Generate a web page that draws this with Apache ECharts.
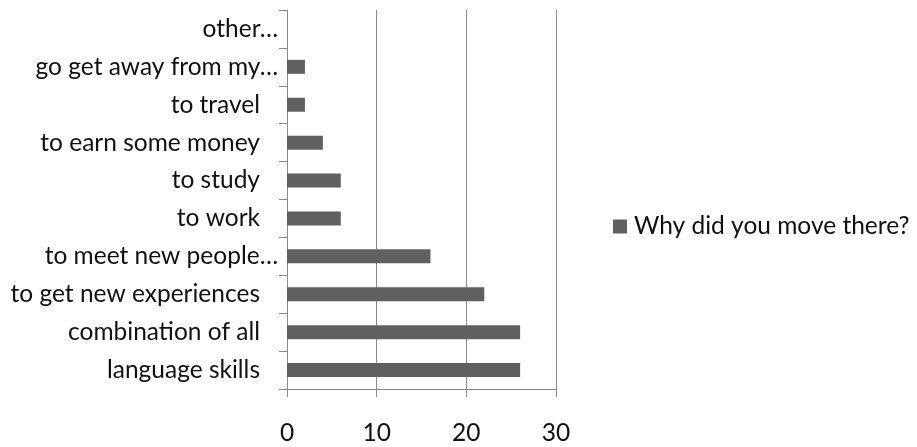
<!DOCTYPE html>
<html><head><meta charset="utf-8">
<script src="https://cdn.jsdelivr.net/npm/echarts@6/dist/echarts.min.js"></script>
<style>html,body{margin:0;padding:0;background:#fff}#c{width:917px;height:447px}</style>
</head><body><div id="c"></div>
<script>
const categories = ["language skills","combination of all","to get new experiences","to meet new people…","to work","to study","to earn some money","to travel","go get away from my…","other…"];
const values = [26,26,22,16,6,6,4,2,2,0];
const seriesName = "Why did you move there?";
const xTicks = [0,10,20,30];

const chart = echarts.init(document.getElementById('c'));
const font = "Lato, 'Open Sans', sans-serif";
const fs = 24.5;
chart.setOption({
  animation:false,
  textStyle:{fontFamily:font},
  grid:{left:287,right:361,top:10,bottom:58,containLabel:false},
  legend:{
    data:[seriesName],left:613,top:214,padding:0,icon:'rect',itemWidth:14,itemHeight:14,itemGap:8,
    textStyle:{fontFamily:font,fontSize:fs,color:'#111',padding:[0,0,0,2]}
  },
  xAxis:{
    type:'value',min:xTicks[0],max:xTicks[xTicks.length-1],interval:10,
    axisLine:{show:true,lineStyle:{color:'#8a8a8a',width:1}},
    axisTick:{show:true,length:8,lineStyle:{color:'#8a8a8a'}},
    splitLine:{show:true,lineStyle:{color:'#8a8a8a',width:1}},
    axisLabel:{margin:32,fontSize:fs,color:'#111',fontFamily:font}
  },
  yAxis:{
    type:'category',data:categories,
    axisLine:{show:true,lineStyle:{color:'#8a8a8a',width:1}},
    axisTick:{show:true,length:8,alignWithLabel:false,lineStyle:{color:'#8a8a8a'}},
    axisLabel:{
      margin:9,fontSize:fs,color:'#111',fontFamily:font,
      formatter:function(v){ return v.endsWith('…') ? '{e|'+v+'}' : '{n|'+v+'}'; },
      rich:{
        e:{fontSize:fs,fontFamily:font,color:'#111'},
        n:{fontSize:fs,fontFamily:font,color:'#111',padding:[0,18,0,0]}
      }
    }
  },
  series:[{
    name:seriesName,type:'bar',data:values,barWidth:14,
    itemStyle:{color:'#606060'}
  }]
});
</script></body></html>
